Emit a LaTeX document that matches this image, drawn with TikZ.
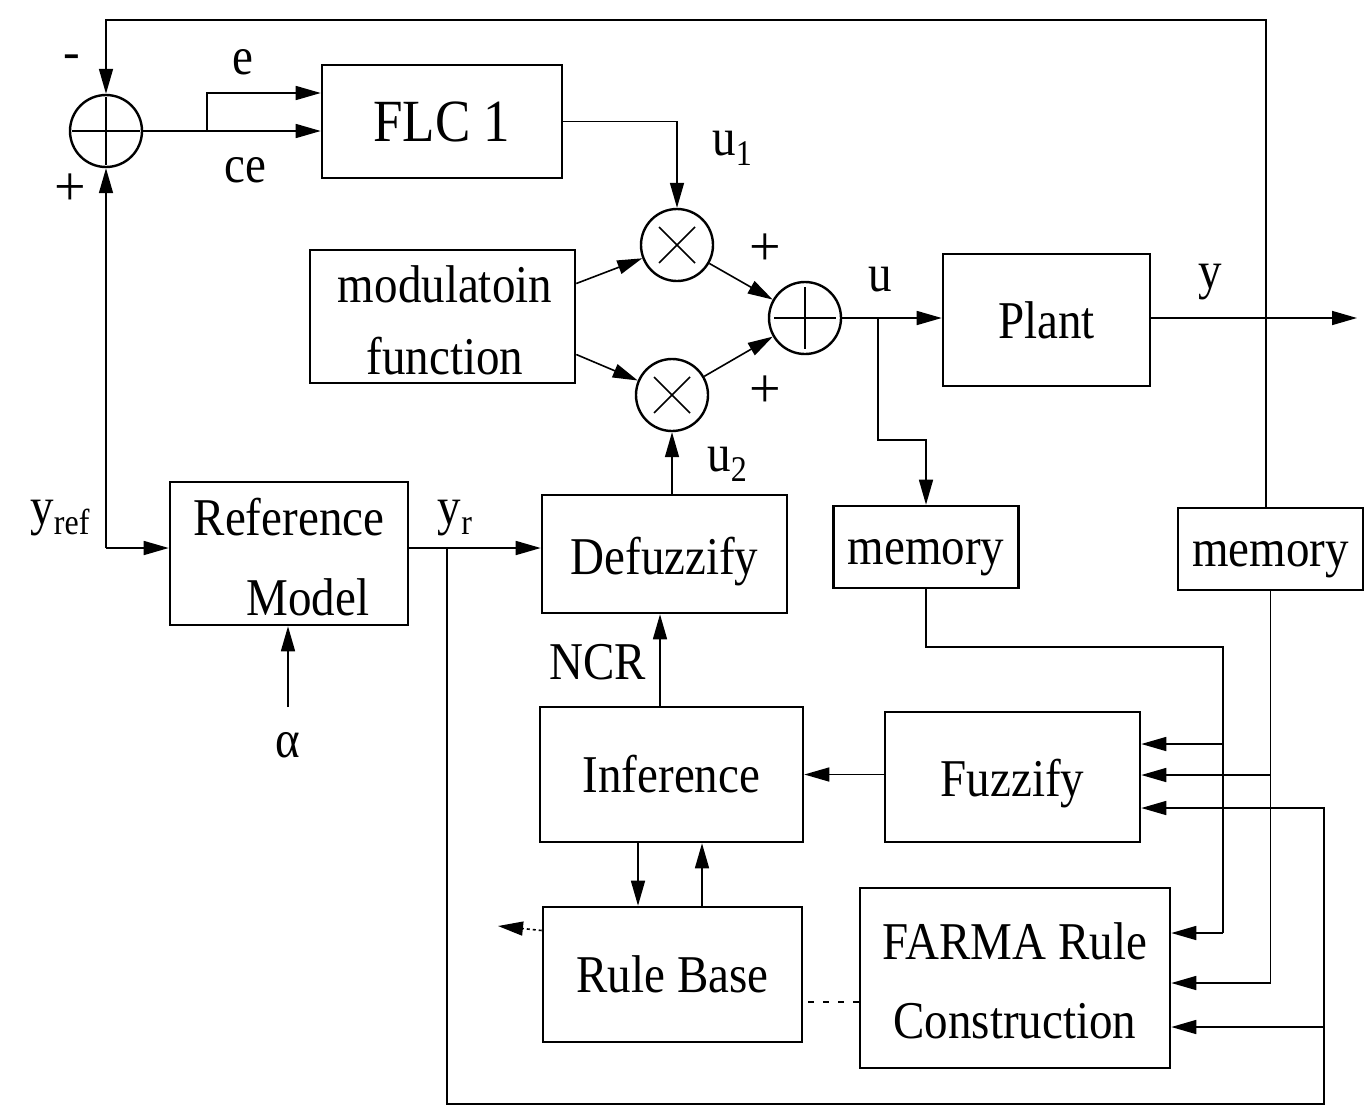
\documentclass[tikz,border=0pt]{standalone}
\usepackage{fontspec}
\setmainfont{Liberation Serif}
\usepackage{graphicx}
\usetikzlibrary{arrows.meta}
\newcommand\tx[1]{\scalebox{1}[1.13]{#1}}
\newcommand\fs[1]{\fontsize{#1}{#1}\selectfont}
\newcommand\sbs[1]{\raisebox{-9pt}{\fs{32}#1}}
\newcommand\dropby[2]{\raisebox{-#1}[\height][\depth]{#2}}
\begin{document}
\begin{tikzpicture}[x=1pt,y=-1pt,
  box/.style={draw, line width=2.6pt, inner sep=0pt, font=\fs{47}},
  lbl/.style={inner sep=0pt, font=\fs{47}},
  sgn/.style={inner sep=0pt, font=\fs{56}},
  cir/.style={draw, circle, line width=2.4pt, minimum size=72pt, inner sep=0pt},
  tip/.style={-{Triangle[length=25pt,width=14pt]}},
  ln/.style={line width=1.6pt},
  arr/.style={ln, tip},
]
\fill[white] (0,0) rectangle (1367,1109);
\useasboundingbox (0,0) rectangle (1367,1109);

% nodes
\node[cir] (s1) at (106,131) {};
\node[box, minimum width=240pt, minimum height=113pt, font=\fs{53}] (flc) at (442,121.5) {\tx{FLC 1}};
\node[box, minimum width=265pt, minimum height=133pt] (mod) at (442.5,316.5) {};
\node[lbl] (modt1) at (445,284) {\tx{modulatoin}};
\node[lbl] (modt2) at (445,356) {\tx{function}};
\node[cir] (m1) at (677,245) {};
\node[cir] (m2) at (672,395) {};
\node[cir] (s2) at (805,318) {};
\node[box, minimum width=207pt, minimum height=132pt] (plant) at (1046.5,320) {\tx{Plant}};
\node[box, minimum width=238pt, minimum height=143pt] (ref) at (289,553.5) {};
\node[lbl] (reft1) at (289,517) {\tx{Reference}};
\node[lbl] (reft2) at (308,597) {\tx{Model}};
\node[box, minimum width=245pt, minimum height=118pt] (def) at (664.5,554) {\dropby{8pt}{\tx{Defuzzify}}};
\node[box, minimum width=185pt, minimum height=82pt] (mem1) at (926,547) {\dropby{11pt}{\tx{memory}}};
\node[box, minimum width=185pt, minimum height=82pt] (mem2) at (1270.5,549) {\dropby{11pt}{\tx{memory}}};
\node[box, minimum width=263pt, minimum height=135pt] (inf) at (671.5,774.5) {\tx{Inference}};
\node[box, minimum width=255pt, minimum height=130pt] (fuz) at (1012.5,777) {\dropby{7pt}{\tx{Fuzzify}}};
\node[box, minimum width=259pt, minimum height=135pt] (rb) at (672.5,974.5) {\tx{Rule Base}};
\node[box, minimum width=310pt, minimum height=180pt] (far) at (1015,978) {};
\node[lbl] (fart1) at (1015,941) {\tx{FARMA Rule}};
\node[lbl] (fart2) at (1015,1021) {\tx{Construction}};

% circle symbols
\draw[ln] (s1.center) ++(0,-34) -- ++(0,68);
\draw[ln] (s1.center) ++(-34,0) -- ++(68,0);
\draw[ln] (s2.center) ++(0,-31) -- ++(0,62);
\draw[ln] (s2.center) ++(-31,0) -- ++(62,0);
\draw[ln] (m1.center) ++(-18,-18) -- ++(36,36);
\draw[ln] (m1.center) ++(-18,18) -- ++(36,-36);
\draw[ln] (m2.center) ++(-18,-18) -- ++(36,36);
\draw[ln] (m2.center) ++(-18,18) -- ++(36,-36);

% coordinates
\coordinate (ytop) at (1266,20);
\coordinate (yj) at (1266,318);
\coordinate (yout) at (1357,318);
\coordinate (yin) at (106,548);
\coordinate (ej) at (207,131);
\coordinate (uj) at (878,318);
\coordinate (yrj) at (447,548);
\coordinate (alc) at (288,707);
\coordinate (rbl) at (498,926);
\coordinate (mc) at (1223,647);
\coordinate (mf) at (1223,744);
\coordinate (md) at (1223,933);
\coordinate (nf) at (1270.5,775);
\coordinate (nd) at (1270.5,983);
\coordinate (rt) at (1324,808);
\coordinate (rf) at (1324,1027);
\coordinate (br) at (1324,1104);
\coordinate (bl) at (447,1104);

% connectors
\draw[arr] (plant.east |- yout) -- (yout);
\draw[ln] (yj) -- (yj |- mem2.north);
\draw[arr] (yj) -- (ytop) -| (s1.north);
\draw[arr] (yin) -- (s1.south);
\draw[arr] (yin) -- (yin -| ref.west);
\draw[ln] (s1.east) -- (ej);
\draw[arr] (ej) |- ([yshift=28.5pt]flc.west);
\draw[arr] (ej) -- (ej -| flc.west);
\draw[arr] (flc.east) -| (m1.north);
\draw[arr] ([yshift=33pt]mod.east) -- (m1);
\draw[arr] ([yshift=-38pt]mod.east) -- (m2);
\draw[arr] (m1) -- (s2);
\draw[arr] (m2) -- (s2);
\draw[arr] (s2.east) -- (plant.west |- s2.east);
\draw[arr] (uj) -- ++(0,122) -| (mem1.north);
\draw[arr] (m2 |- def.north) -- (m2.south);
\draw[arr] (ref.east |- yin) -- (def.west |- yin);
\draw[arr] (alc) -- (alc |- ref.south);
\draw[arr] ([xshift=-11.5pt]inf.north) -- ([xshift=-11.5pt]inf.north |- def.south);
\draw[arr] (fuz.west |- inf.east) -- (inf.east);
\draw[arr] ([xshift=-33.5pt]inf.south) -- ([xshift=-33.5pt]inf.south |- rb.north);
\draw[arr] ([xshift=29.5pt]rb.north) -- ([xshift=29.5pt]rb.north |- inf.south);
\draw[arr, dashed] ([yshift=44pt]rb.west) -- (rbl);
\draw[ln, dash pattern=on 6pt off 9pt] ([yshift=-24pt]far.west) -- ([yshift=-24pt]far.west -| rb.east);
\draw[ln] (mem1.south) |- (mc) -- (md);
\draw[arr] (md) -- (md -| far.east);
\draw[arr] (mf) -- (mf -| fuz.east);
\draw[ln] (mem2.south) -- (nd);
\draw[arr] (nd) -- (nd -| far.east);
\draw[arr] (nf) -- (nf -| fuz.east);
\draw[arr] (yrj) -- (bl) -- (br) -- (rt) -- (rt -| fuz.east);
\draw[arr] (rf) -- (rf -| far.east);

% labels
\node[lbl, font=\fs{50}] (lminus) at (72,62) {-};
\node[sgn] (lplus1) at (70,190) {+};
\node[lbl] (le) at (243,62) {\tx{e}};
\node[lbl] (lce) at (245,170) {\tx{ce}};
\node[lbl] (lu1) at (732,148) {\tx{u\sbs{1}}};
\node[lbl] (lu) at (880,280) {\tx{u}};
\node[lbl] (ly) at (1210,282) {\tx{y}};
\node[sgn] (lplus2) at (765,250) {+};
\node[sgn] (lplus3) at (765,392) {+};
\node[lbl] (lu2) at (727,464) {\tx{u\sbs{2}}};
\node[lbl] (lyref) at (60,518) {\tx{y\sbs{ref}}};
\node[lbl] (lyr) at (455,518) {\tx{y\sbs{r}}};
\node[lbl] (lncr) at (598,662) {\tx{NCR}};
\node[lbl] (lal) at (288,745) {\tx{α}};
\end{tikzpicture}
\end{document}
